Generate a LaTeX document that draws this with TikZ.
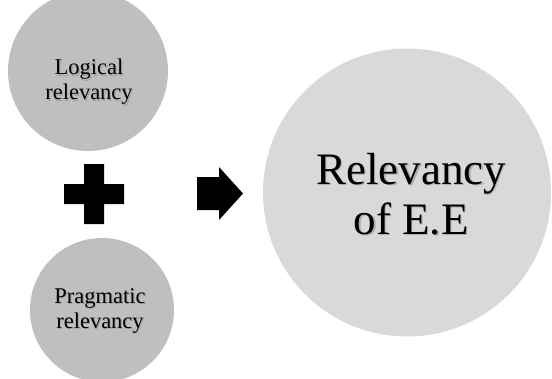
\documentclass[tikz,border=0pt]{standalone}
\usepackage{fontspec}
\setmainfont{Liberation Serif}
\begin{document}
\begin{tikzpicture}[x=1pt,y=-1pt,
  smallc/.style={circle,fill=black!25,draw=none,inner sep=0pt},
  bigc/.style={circle,fill=black!15,draw=none,inner sep=0pt},
  smalltxt/.style={align=center,font=\fontsize{22.5}{25}\selectfont,inner sep=0pt},
  bigtxt/.style={align=center,font=\fontsize{45}{50}\selectfont,inner sep=0pt},
  shadowtxt/.style={text=black!45,opacity=0.55},
  solidshape/.style={fill=black,draw=none}]
\useasboundingbox (0,0) rectangle (552,378);
\clip (0,0) rectangle (552,378);
% circles
\node[smallc,minimum size=160pt] (logic) at (88,71) {};
\node[smallc,minimum size=144pt] (prag) at (102,310) {};
\node[bigc,minimum size=288pt] (rel) at (407,192.5) {};
% texts with soft shadow
\node[smalltxt,shadowtxt] (logicS) at (90.2,83.2) {Logical\\relevancy};
\node[smalltxt] (logicT) at (89,82) {Logical\\relevancy};
\node[smalltxt,shadowtxt] (pragS) at (101.2,312.2) {Pragmatic\\relevancy};
\node[smalltxt] (pragT) at (100,311) {Pragmatic\\relevancy};
\node[bigtxt,shadowtxt] (relS) at (412.5,195.5) {Relevancy\\of E.E};
\node[bigtxt] (relT) at (411,194) {Relevancy\\of E.E};
% plus sign
\fill[solidshape] (64,184) -- (84,184) -- (84,164) -- (104,164) -- (104,184)
  -- (124,184) -- (124,204) -- (104,204) -- (104,224) -- (84,224) -- (84,204)
  -- (64,204) -- cycle;
% block arrow
\fill[solidshape] (197,177) -- (219,177) -- (219,167) -- (243,193.5) -- (219,220)
  -- (219,210) -- (197,210) -- cycle;
\end{tikzpicture}
\end{document}
